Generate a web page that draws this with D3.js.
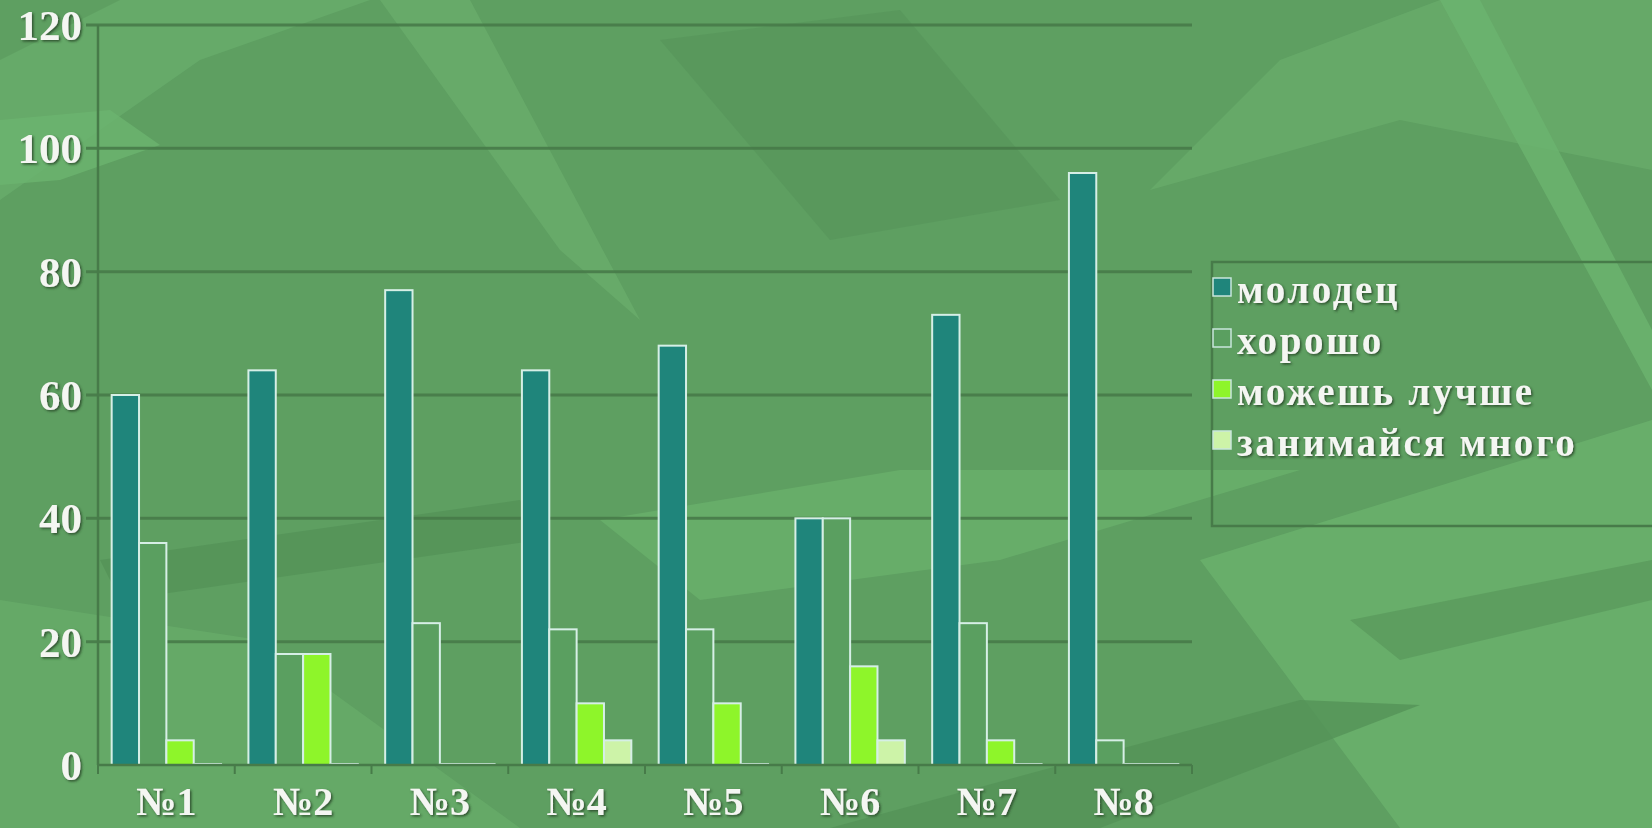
<!DOCTYPE html>
<html>
<head>
<meta charset="utf-8">
<style>
  body { margin: 0; background: #5e9f61; }
  svg { display: block; }
  .lbl { font-family: "Liberation Serif", "Times New Roman", serif; font-weight: 700; fill: #f4f6f2; }
</style>
<script src="https://cdn.jsdelivr.net/npm/d3@7"></script>
</head>
<body>
<script>
// data
var groups = ["№1", "№2", "№3", "№4", "№5", "№6", "№7", "№8"];
var seriesNames = ["молодец", "хорошо", "можешь лучше", "занимайся много"];
var molodec   = [60, 64, 77, 64, 68, 40, 73, 96];
var horosho   = [36, 18, 23, 22, 22, 40, 23, 4];
var mozhesh   = [4, 18, 0, 10, 10, 16, 4, 0];
var zanimaysya = [0, 0, 0, 4, 0, 4, 0, 0];
var yTicks = [0, 20, 40, 60, 80, 100, 120];
var seriesColors = ["#1f857b", "#5a9f60", "#8ef52a", "#cdf3a8"];

var W = 1652, H = 828;
var values = [molodec, horosho, mozhesh, zanimaysya];

var svg = d3.select("body").append("svg")
    .attr("width", W)
    .attr("height", H);

// text shadow filter
var defs = svg.append("defs");
var f = defs.append("filter").attr("id", "sh").attr("x", "-10%").attr("y", "-20%").attr("width", "120%").attr("height", "140%");
f.append("feDropShadow").attr("dx", 1.5).attr("dy", 1.5).attr("stdDeviation", 1).attr("flood-color", "#2b4a2c").attr("flood-opacity", 0.9);

// background leaves (decoration)
var bg = svg.append("g");
bg.append("rect").attr("width", W).attr("height", H).attr("fill", "#5e9f61");
var leaves = [
  {p: [[0, 60], [120, 0], [370, 0], [200, 60], [0, 200]], c: "#68ad6b"},
  {p: [[0, 120], [110, 110], [160, 145], [60, 180], [0, 185]], c: "#6cb46f"},
  {p: [[380, 0], [470, 0], [640, 320], [560, 250]], c: "#69ad6c"},
  {p: [[660, 40], [900, 10], [1060, 200], [830, 240]], c: "#58965b"},
  {p: [[1150, 190], [1280, 60], [1440, 0], [1652, 0], [1652, 170], [1400, 120]], c: "#68ab6a"},
  {p: [[1440, 0], [1480, 0], [1652, 330], [1652, 390]], c: "#6cb46f"},
  {p: [[600, 520], [900, 470], [1300, 470], [1000, 560], [700, 600]], c: "#69b06c"},
  {p: [[100, 560], [520, 500], [540, 540], [120, 600]], c: "#549257"},
  {p: [[0, 600], [260, 640], [520, 828], [0, 828]], c: "#66ab69"},
  {p: [[1200, 560], [1652, 420], [1652, 828], [1400, 828]], c: "#6ab26d"},
  {p: [[830, 828], [1300, 700], [1420, 705], [1100, 828]], c: "#549257"},
  {p: [[1350, 620], [1652, 560], [1652, 600], [1400, 660]], c: "#5a9a5d"}
];
bg.selectAll("path.leaf").data(leaves).enter().append("path")
    .attr("class", "leaf")
    .attr("d", function(d) { return "M" + d.p.join("L") + "Z"; })
    .attr("fill", function(d) { return d.c; })
    .attr("opacity", 0.8);

// scales
var x0 = d3.scaleBand().domain(groups).range([98, 1192]).padding(0);
var x1 = d3.scaleBand().domain(d3.range(seriesNames.length))
    .range([x0.step() * 0.1, x0.step() * 0.9]).padding(0);
var y = d3.scaleLinear().domain([0, 120]).range([765, 25]);

// gridlines
svg.append("g").selectAll("line").data(yTicks.slice(1)).enter().append("line")
    .attr("x1", 86).attr("x2", 1192)
    .attr("y1", function(d) { return y(d); }).attr("y2", function(d) { return y(d); })
    .attr("stroke", "#477b49").attr("stroke-width", 3).attr("opacity", 0.9);

// y axis
svg.append("line").attr("x1", 98).attr("x2", 98).attr("y1", y(120)).attr("y2", y(0))
    .attr("stroke", "#477b49").attr("stroke-width", 2.5);
svg.append("g").selectAll("text").data(yTicks).enter().append("text")
    .attr("class", "lbl")
    .attr("filter", "url(#sh)")
    .attr("x", 82)
    .attr("y", function(d) { return y(d) + 15; })
    .attr("text-anchor", "end")
    .style("font-size", "43px")
    .text(function(d) { return d; });

// bars
var gGroups = svg.append("g").selectAll("g").data(groups).enter().append("g")
    .attr("transform", function(d) { return "translate(" + x0(d) + ",0)"; });
gGroups.selectAll("rect").data(function(d, i) {
    return values.map(function(s, k) { return {k: k, v: s[i]}; });
  }).enter().append("rect")
    .attr("x", function(d) { return x1(d.k); })
    .attr("width", x1.bandwidth())
    .attr("y", function(d) { return Math.min(y(d.v), y(0) - 1); })
    .attr("height", function(d) { return Math.max(1, y(0) - y(d.v)); })
    .attr("fill", function(d) { return seriesColors[d.k]; })
    .attr("stroke", "#d6efe6")
    .attr("stroke-width", 2);

// x axis
svg.append("line").attr("x1", 98).attr("x2", 1192).attr("y1", y(0)).attr("y2", y(0))
    .attr("stroke", "#477b49").attr("stroke-width", 2.5);
svg.append("g").selectAll("line").data(d3.range(groups.length + 1)).enter().append("line")
    .attr("x1", function(i) { return 98 + i * x0.step(); })
    .attr("x2", function(i) { return 98 + i * x0.step(); })
    .attr("y1", y(0)).attr("y2", y(0) + 9)
    .attr("stroke", "#477b49").attr("stroke-width", 2);
svg.append("g").selectAll("text").data(groups).enter().append("text")
    .attr("class", "lbl")
    .attr("filter", "url(#sh)")
    .attr("x", function(d) { return x0(d) + x0.bandwidth() / 2; })
    .attr("y", 815)
    .attr("text-anchor", "middle")
    .style("font-size", "40px")
    .text(function(d) { return d; });

// legend
var lg = svg.append("g");
lg.append("rect").attr("x", 1212).attr("y", 262).attr("width", 460).attr("height", 264)
    .attr("fill", "none").attr("stroke", "#477b49").attr("stroke-width", 2.5);
var items = lg.selectAll("g.item").data(seriesNames).enter().append("g")
    .attr("class", "item")
    .attr("transform", function(d, i) { return "translate(1213," + (278 + i * 51) + ")"; });
items.append("rect")
    .attr("width", 18).attr("height", 18)
    .attr("fill", function(d, i) { return seriesColors[i]; })
    .attr("stroke", "#c9e6dc").attr("stroke-width", 1.5);
items.append("text")
    .attr("class", "lbl")
    .attr("filter", "url(#sh)")
    .attr("x", 24).attr("y", 25)
    .style("font-size", "39px")
    .style("letter-spacing", "2.6px")
    .text(function(d) { return d; });
</script>
</body>
</html>
